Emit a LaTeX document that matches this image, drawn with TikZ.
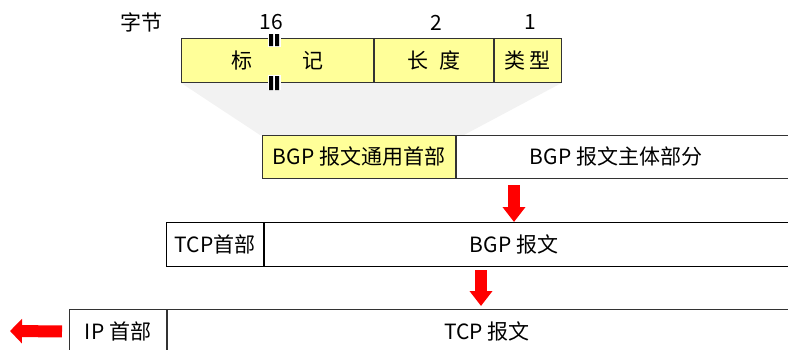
\documentclass[tikz,border=0pt]{standalone}
\usepackage{fontspec}
\setmainfont{Noto Sans CJK SC}
\usetikzlibrary{positioning, arrows.meta, backgrounds}
\definecolor{hdryellow}{HTML}{FFFF99}
\definecolor{fangray}{HTML}{F2F2F2}

\begin{document}
\begin{tikzpicture}[x=1pt, y=-1pt, node distance=0pt,
  cell/.style={draw=black!80, line width=0.9pt, fill=white, inner sep=0pt, minimum height=44pt, font=\fontsize{21}{25}\selectfont},
  lbl/.style={inner sep=0pt, font=\fontsize{21}{25}\selectfont},
  redarrow/.style={red, line width=12pt, -{Triangle[width=22pt, length=15pt]}},
  brkbar/.style={fill=black}]
  \useasboundingbox (0,0) rectangle (788,349);
  % BGP header fields
  \node[cell, fill=hdryellow, minimum width=192pt, anchor=north west] (flag) at (181,38) {标\hspace{50pt}记};
  \node[cell, fill=hdryellow, minimum width=119pt, right=of flag] (len) {长\hspace{11pt}度};
  \node[cell, fill=hdryellow, minimum width=67pt, right=of len] (type) {类\hspace{4pt}型};
  \node[lbl] (bytes) at (141.5,22.5) {字节};
  \node[lbl] (n16) at (271,22.5) {16};
  \node[lbl] (n2) at (436,22.5) {2};
  \node[lbl] (n1) at (530,22.5) {1};
  % break marks
  \fill[white] (267.5,33) rectangle (280.5,47);
  \fill[brkbar] (269,34) rectangle (273,46) (275,34) rectangle (279,46);
  \fill[white] (267.5,75) rectangle (280.5,90);
  \fill[brkbar] (269,76) rectangle (273,90) (275,76) rectangle (279,90);
  % BGP message
  \node[cell, fill=hdryellow, minimum width=193pt, minimum height=43pt, anchor=north west] (hdr) at (262,135) {BGP 报文通用首部};
  \node[cell, minimum width=360pt, minimum height=43pt, right=of hdr] (body) {};
  \node[lbl] (bodytxt) at (616,156.5) {BGP 报文主体部分};
  \begin{scope}[on background layer]
    \fill[fangray] (flag.south west) -- (type.south east) -- ([xshift=8pt]hdr.north east) -- ([xshift=-2pt]hdr.north west) -- cycle;
  \end{scope}
  % TCP segment
  \node[cell, draw=black, minimum width=97pt, anchor=north west] (tcphdr) at (166,222) {TCP首部};
  \node[cell, draw=black, minimum width=560pt, right=of tcphdr] (bgp) {};
  \node[lbl] (bgptxt) at (514,244) {BGP 报文};
  % IP packet
  \node[cell, minimum width=97pt, anchor=north west] (iphdr) at (69,309) {IP 首部};
  \node[cell, minimum width=650pt, right=of iphdr] (tcp) {};
  \node[lbl] (tcptxt) at (487,331) {TCP 报文};
  % arrows
  \coordinate (a1) at (514,185);
  \coordinate (a2) at (481,270);
  \coordinate (ipout) at (10,331);
  \draw[redarrow] (a1) -- (a1 |- bgp.north);
  \draw[redarrow, shorten >=3pt] (a2) -- (a2 |- tcp.north);
  \draw[redarrow, -{Triangle[width=24pt, length=12pt]}] ([xshift=-7pt]iphdr.west) -- (ipout);
\end{tikzpicture}
\end{document}
